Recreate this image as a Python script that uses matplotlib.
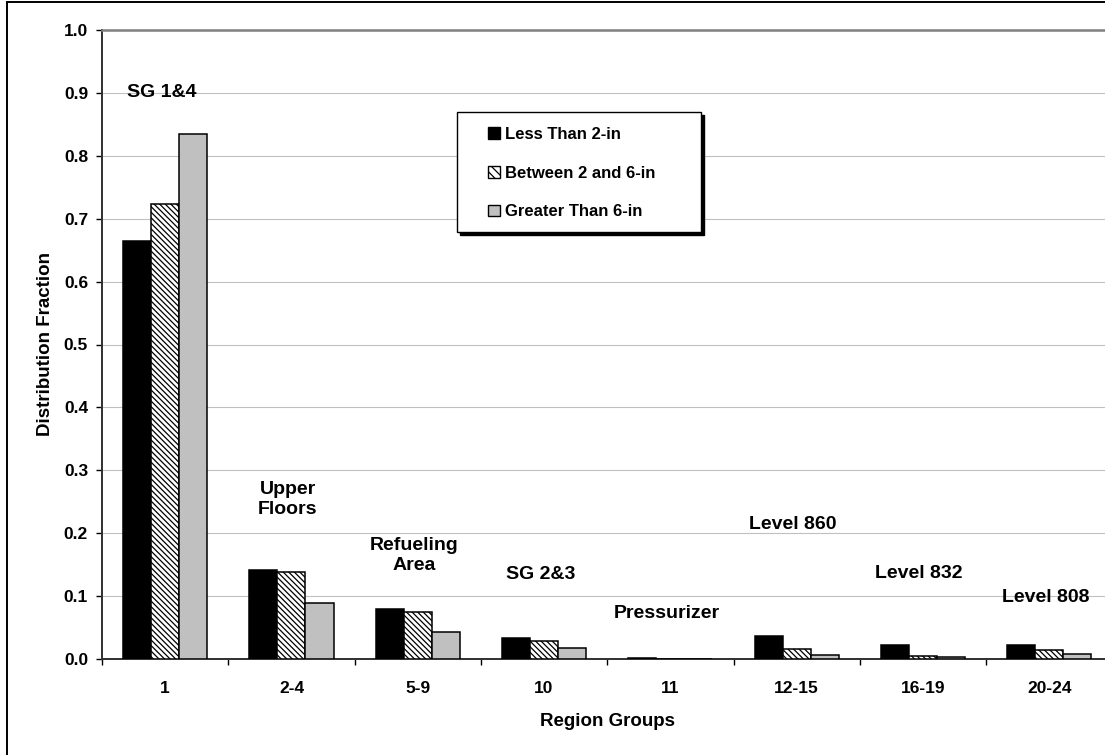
import numpy as np
import matplotlib
matplotlib.use("Agg")
import matplotlib.pyplot as plt
import matplotlib.patches as patches
from matplotlib.patches import Patch

plt.rcParams['font.family'] = ['Liberation Sans', 'DejaVu Sans']
plt.rcParams['font.weight'] = 'bold'
plt.rcParams['hatch.linewidth'] = 0.9

# region groups on the x axis
groups = ['1', '2-4', '5-9', '10', '11', '12-15', '16-19', '20-24']

# distribution fraction per pipe size
less_than_2 = [0.664, 0.142, 0.079, 0.034, 0.002, 0.036, 0.023, 0.023]
between_2_6 = [0.723, 0.139, 0.074, 0.029, 0.0, 0.0165, 0.005, 0.014]
greater_6 = [0.835, 0.089, 0.043, 0.0175, 0.0, 0.0065, 0.003, 0.0075]

series_names = ['Less Than 2-in', 'Between 2 and 6-in', 'Greater Than 6-in']

# building area names written above each group
area_labels = ['SG 1&4', 'Upper\nFloors', 'Refueling\nArea', 'SG 2&3',
               'Pressurizer', 'Level 860', 'Level 832', 'Level 808']
area_label_y = [0.900, 0.253, 0.164, 0.134, 0.073, 0.214, 0.136, 0.098]

W, H = 1105, 755
fig = plt.figure(figsize=(W / 100, H / 100), dpi=100)
ax = fig.add_axes([102 / W, 1 - 659 / H, (1112.4 - 102) / W, 629 / H])

x = np.arange(len(groups))
bw = 0.222
ax.bar(x - bw, less_than_2, bw, color='black', edgecolor='black', lw=1.1, zorder=3)
ax.bar(x, between_2_6, bw, color='white', edgecolor='black', hatch='\\\\\\\\\\\\',
       lw=1.1, zorder=3)
ax.bar(x + bw, greater_6, bw, color='#c0c0c0', edgecolor='black', lw=1.1, zorder=3)

for i, (s, yv) in enumerate(zip(area_labels, area_label_y)):
    ax.text(i - 0.03, yv, s, ha='center', va='center', fontsize=14,
            fontweight='bold', linespacing=1.25, zorder=4)

ax.set_xlim(-0.5, len(groups) - 0.5)
ax.set_ylim(0, 1.0)
ax.set_yticks(np.arange(0, 1.01, 0.1))
ax.set_yticklabels([f'{v:.1f}' for v in np.arange(0, 1.01, 0.1)])
ax.set_xticks(x)
ax.set_xticklabels(groups)
ax.set_xticks(np.arange(-0.5, len(groups), 1), minor=True)
ax.tick_params(axis='x', which='major', length=0, pad=16, labelsize=12.5)
ax.tick_params(axis='x', which='minor', length=4, width=1, direction='out')
ax.tick_params(axis='y', length=4, width=1, direction='out', pad=6, labelsize=12.5)

ax.yaxis.grid(True, color='#c0c0c0', lw=0.8)
ax.set_axisbelow(True)
ax.spines['top'].set_color('#808080')
ax.spines['top'].set_linewidth(1.8)
ax.spines['right'].set_visible(False)
ax.spines['left'].set_color('#303030')
ax.spines['left'].set_linewidth(1.4)
ax.spines['bottom'].set_color('#303030')
ax.spines['bottom'].set_linewidth(1.4)

ax.set_xlabel('Region Groups', fontsize=13.5, fontweight='bold', labelpad=12)
ax.set_ylabel('Distribution Fraction', fontsize=13.5, fontweight='bold', labelpad=7)

# outer chart border
fig.add_artist(patches.Rectangle((7 / W, -0.1), 1.1, 1.1 - 2 / H, transform=fig.transFigure,
                                 fill=False, edgecolor='black', lw=1.4, zorder=5))

# legend box with a drop shadow
lx0, ly0, lx1, ly1 = 457, 112, 701, 232
fig.add_artist(patches.Rectangle(((lx0 + 3) / W, 1 - (ly1 + 3) / H), (lx1 - lx0) / W,
                                 (ly1 - ly0) / H, transform=fig.transFigure,
                                 facecolor='black', edgecolor='black', zorder=6))
fig.add_artist(patches.Rectangle((lx0 / W, 1 - ly1 / H), (lx1 - lx0) / W,
                                 (ly1 - ly0) / H, transform=fig.transFigure,
                                 facecolor='white', edgecolor='black', lw=1.0, zorder=7))
handles = [
    Patch(facecolor='black', edgecolor='black', lw=1.0),
    Patch(facecolor='white', edgecolor='black', hatch='\\\\\\\\', lw=1.0),
    Patch(facecolor='#c0c0c0', edgecolor='black', lw=1.0),
]
leg = fig.legend(handles, series_names, loc='upper left',
                 bbox_to_anchor=(488 / W, 1 - 127 / H), bbox_transform=fig.transFigure,
                 frameon=False, handlelength=0.72, handleheight=0.72, handletextpad=0.3,
                 labelspacing=1.42, borderpad=0, borderaxespad=0,
                 prop={'size': 12, 'weight': 'bold'})
leg.set_zorder(8)

fig.savefig('out.png', dpi=100)
